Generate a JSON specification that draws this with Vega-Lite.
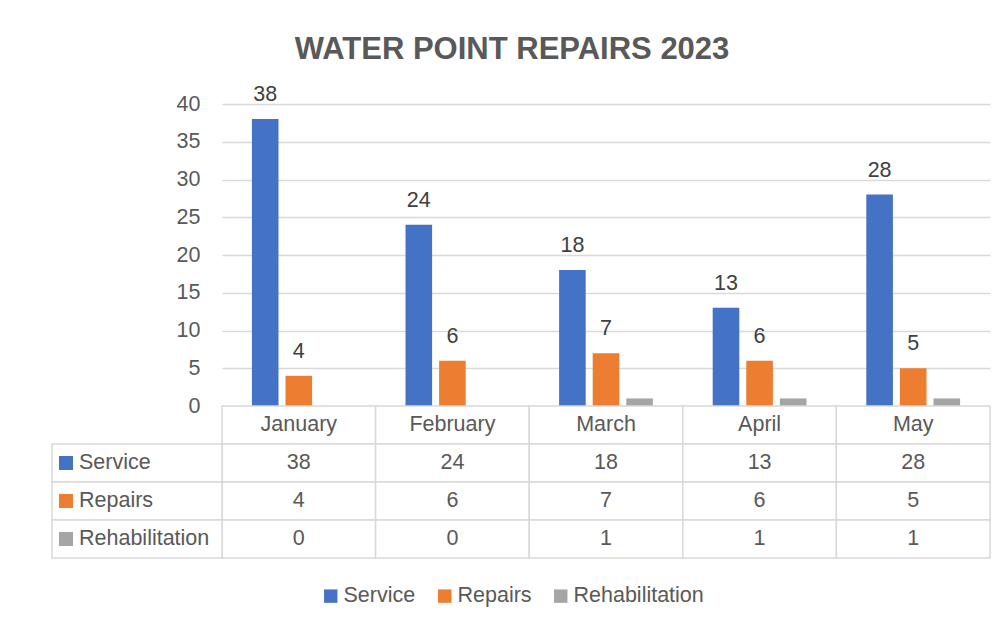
{
  "$schema": "https://vega.github.io/schema/vega-lite/v6.json",
  "width": 768,
  "height": 302,
  "autosize": {"type": "none"},
  "padding": {"left": 222, "top": 104, "right": 18, "bottom": 224},
  "background": "white",
  "config": {"font": "Liberation Sans", "view": {"stroke": null}},
  "title": {
    "text": "WATER POINT REPAIRS 2023",
    "fontSize": 31,
    "fontWeight": "bold",
    "color": "#595959",
    "anchor": "middle",
    "dx": -94,
    "offset": 18
  },
  "data": {
    "values": [
      {"month": "January", "series": "Service", "value": 38},
      {"month": "February", "series": "Service", "value": 24},
      {"month": "March", "series": "Service", "value": 18},
      {"month": "April", "series": "Service", "value": 13},
      {"month": "May", "series": "Service", "value": 28},
      {"month": "January", "series": "Repairs", "value": 4},
      {"month": "February", "series": "Repairs", "value": 6},
      {"month": "March", "series": "Repairs", "value": 7},
      {"month": "April", "series": "Repairs", "value": 6},
      {"month": "May", "series": "Repairs", "value": 5},
      {"month": "January", "series": "Rehabilitation", "value": 0},
      {"month": "February", "series": "Rehabilitation", "value": 0},
      {"month": "March", "series": "Rehabilitation", "value": 1},
      {"month": "April", "series": "Rehabilitation", "value": 1},
      {"month": "May", "series": "Rehabilitation", "value": 1}
    ]
  },
  "layer": [
    {
      "encoding": {
        "x": {
          "field": "month", "type": "nominal", "sort": null,
          "scale": {"domain": ["January", "February", "March", "April", "May"], "paddingInner": 0, "paddingOuter": 0},
          "axis": null
        },
        "xOffset": {
          "field": "series", "type": "nominal", "sort": null,
          "scale": {"domain": ["Service", "Repairs", "Rehabilitation"], "paddingInner": 0.208, "paddingOuter": 0.89}
        },
        "y": {
          "field": "value", "type": "quantitative",
          "scale": {"domain": [0, 40], "nice": false},
          "axis": {
            "values": [0, 5, 10, 15, 20, 25, 30, 35, 40],
            "title": null,
            "grid": true,
            "gridColor": "#d9d9d9",
            "gridWidth": 1.5,
            "domain": false,
            "ticks": false,
            "labelPadding": 22,
            "labelFontSize": 21.5,
            "labelColor": "#595959"
          }
        }
      },
      "layer": [
        {
          "mark": {"type": "bar"},
          "encoding": {
            "color": {
              "field": "series", "type": "nominal", "sort": null,
              "scale": {"domain": ["Service", "Repairs", "Rehabilitation"], "range": ["#4472C4", "#ED7D31", "#A5A5A5"]},
              "legend": {
                "orient": "none",
                "legendX": 98,
                "legendY": 481,
                "direction": "horizontal",
                "title": null,
                "symbolType": "square",
                "symbolSize": 180,
                "symbolStrokeWidth": 0,
                "labelFontSize": 21.5,
                "labelColor": "#595959",
                "labelOffset": 2,
                "columnPadding": 18
              }
            }
          }
        },
        {
          "transform": [{"filter": "datum.series !== 'Rehabilitation'"}],
          "mark": {"type": "text", "baseline": "alphabetic", "dy": -18, "fontSize": 21.5, "color": "#404040"},
          "encoding": {"text": {"field": "value", "type": "quantitative"}}
        }
      ]
    },
    {
      "encoding": {
        "x": {
          "field": "month", "type": "nominal", "sort": null,
          "scale": {"domain": ["January", "February", "March", "April", "May"], "range": [0, 768], "paddingInner": 0, "paddingOuter": 0},
          "axis": null
        }
      },
      "layer": [
        {
          "transform": [{"aggregate": [{"op": "count", "as": "n"}], "groupby": ["month"]}],
          "mark": {"type": "rect", "fill": "white", "stroke": "#d9d9d9", "strokeWidth": 1.5},
          "encoding": {
            "y": {"datum": "Month", "type": "nominal", "scale": {"domain": ["Month", "Service", "Repairs", "Rehabilitation"], "range": [302, 454], "paddingInner": 0, "paddingOuter": 0}, "axis": null}
          }
        },
        {
          "transform": [{"aggregate": [{"op": "count", "as": "n"}], "groupby": ["month"]}],
          "mark": {"type": "text", "baseline": "middle", "fontSize": 21.5, "color": "#595959"},
          "encoding": {
            "y": {"datum": "Month", "type": "nominal", "axis": null},
            "text": {"field": "month", "type": "nominal"}
          }
        },
        {
          "mark": {"type": "rect", "fill": "white", "stroke": "#d9d9d9", "strokeWidth": 1.5},
          "encoding": {
            "y": {"field": "series", "type": "nominal", "axis": null}
          }
        },
        {
          "mark": {"type": "text", "baseline": "middle", "fontSize": 21.5, "color": "#595959"},
          "encoding": {
            "y": {"field": "series", "type": "nominal", "axis": null},
            "text": {"field": "value", "type": "quantitative"}
          }
        }
      ]
    },
    {
      "transform": [{"aggregate": [{"op": "count", "as": "n"}], "groupby": ["series"]}],
      "encoding": {
        "x": {"datum": "hdr", "type": "nominal", "scale": {"domain": ["hdr"], "range": [-170, 0], "paddingInner": 0, "paddingOuter": 0}, "axis": null},
        "y": {"field": "series", "type": "nominal", "scale": {"domain": ["Month", "Service", "Repairs", "Rehabilitation"], "range": [302, 454], "paddingInner": 0, "paddingOuter": 0}, "axis": null}
      },
      "layer": [
        {
          "mark": {"type": "rect", "fill": "white", "stroke": "#d9d9d9", "strokeWidth": 1.5}
        },
        {
          "mark": {"type": "square", "size": 196, "filled": true, "opacity": 1, "xOffset": -71},
          "encoding": {
            "color": {"field": "series", "type": "nominal", "sort": null}
          }
        },
        {
          "mark": {"type": "text", "align": "left", "baseline": "middle", "dx": -58, "fontSize": 21.5, "color": "#595959"},
          "encoding": {"text": {"field": "series", "type": "nominal"}}
        }
      ]
    }
  ],
  "resolve": {"scale": {"x": "independent", "y": "independent"}}
}
